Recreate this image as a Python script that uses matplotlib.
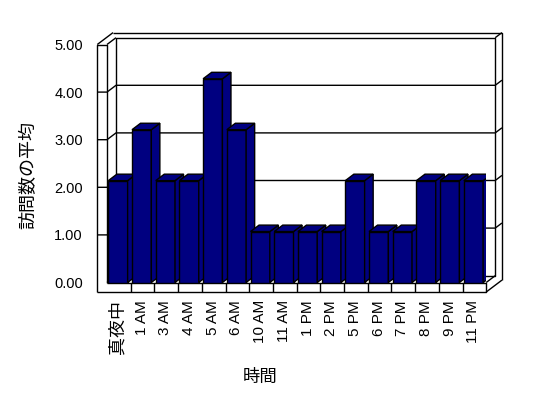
import matplotlib
matplotlib.use('Agg')
import matplotlib.pyplot as plt
from matplotlib.patches import Polygon

plt.rcParams['font.family'] = ['Liberation Sans', 'Noto Sans CJK JP']

# data
hours = ['真夜中', '1 AM', '3 AM', '4 AM', '5 AM', '6 AM', '10 AM', '11 AM',
         '1 PM', '2 PM', '5 PM', '6 PM', '7 PM', '8 PM', '9 PM', '11 PM']
visits = [2.14, 3.21, 2.14, 2.14, 4.28, 3.21, 1.07, 1.07,
          1.07, 1.07, 2.14, 1.07, 1.07, 2.14, 2.14, 2.14]
y_ticks = [0, 1, 2, 3, 4, 5]
y_ticklabels = ['0.00', '1.00', '2.00', '3.00', '4.00', '5.00']

navy = '#000080'

# fake 3d (oblique) geometry, in data units
DX, DY = 9 / 23.7, 6.8 / 47.6   # shift per unit of depth
wall_t = 0.41                   # left wall thickness (slots)
floor_t = 0.2                   # floor thickness (value units)
back_z, back_out = 1.0, 1.75    # back wall inner / outer depth
bar_off, bar_w, bar_z = 0.055, 0.815, 0.95

n = len(hours)
top = y_ticks[-1]

fig = plt.figure(figsize=(5.48, 3.98), dpi=100)
ax = fig.add_axes([107 / 548, 1 - 282.5 / 398, 379.2 / 548, 238 / 398])
ax.set_xlim(0, n)
ax.set_ylim(0, top)
for s in ax.spines.values():
    s.set_visible(False)


def proj(x, y, z):
    return (x + z * DX, y + z * DY)


def path(*pts):
    xy = [proj(*p) for p in pts]
    ax.plot([p[0] for p in xy], [p[1] for p in xy], color='k', lw=1,
            clip_on=False, zorder=2, solid_capstyle='butt')


# back wall
path((0, 0, back_z), (n, 0, back_z), (n, top, back_z), (0, top, back_z), (0, 0, back_z))
path((n, top, back_z), (n, top, back_out))
path((-wall_t, top, back_out), (n, top, back_out), (n, -floor_t, back_out))
# floor
path((-wall_t, -floor_t, 0), (n, -floor_t, 0), (n, 0, 0), (0, 0, 0))
path((n, -floor_t, 0), (n, -floor_t, back_out))
path((n, 0, 0), (n, 0, back_z))
path((0, 0, 0), (0, 0, back_z))
for i in range(1, n):
    path((i, -floor_t, 0), (i, 0, 0))
# left wall
path((-wall_t, -floor_t, 0), (-wall_t, top, 0), (0, top, 0), (0, 0, 0))
path((-wall_t, top, 0), (-wall_t, top, back_out))
path((0, top, 0), (0, top, back_z))
# gridlines
for k in y_ticks[1:-1]:
    path((-wall_t, k, 0), (0, k, 0), (0, k, back_z), (n, k, back_z), (n, k, back_out))

# bars, drawn left to right so each one hides the side of the previous one
bars = ax.bar([i + bar_off for i in range(n)], visits, width=bar_w, align='edge',
              color=navy, edgecolor='k', lw=1)
for i, (rect, v) in enumerate(zip(bars, visits)):
    x0 = i + bar_off
    x1 = x0 + bar_w
    rect.set_zorder(10 + 3 * i)
    side = Polygon([proj(x1, 0, 0), proj(x1, 0, bar_z), proj(x1, v, bar_z), proj(x1, v, 0)],
                   closed=True, fc=navy, ec='k', lw=1, zorder=11 + 3 * i)
    lid = Polygon([proj(x0, v, 0), proj(x1, v, 0), proj(x1, v, bar_z), proj(x0, v, bar_z)],
                  closed=True, fc=navy, ec='k', lw=1, zorder=12 + 3 * i)
    ax.add_patch(side)
    ax.add_patch(lid)

ax.set_xticks([i + bar_off + bar_w / 2 for i in range(n)])
ax.set_xticklabels(hours, rotation=90, va='top', fontsize=11)
for lbl in ax.get_xticklabels():
    if not lbl.get_text().isascii():
        lbl.set_fontsize(13)
ax.set_yticks(y_ticks)
ax.set_yticklabels(y_ticklabels, fontsize=10.5)
ax.tick_params(axis='x', length=0, pad=12.6)
ax.tick_params(axis='y', length=0, pad=17.3)

fig.text(28.5 / 548, 1 - 175 / 398, '訪問数の平均', rotation=90, ha='center', va='center', fontsize=13)
fig.text(260 / 548, 1 - 377 / 398, '時間', ha='center', va='center', fontsize=12.5)

fig.savefig('out.png', dpi=100)
